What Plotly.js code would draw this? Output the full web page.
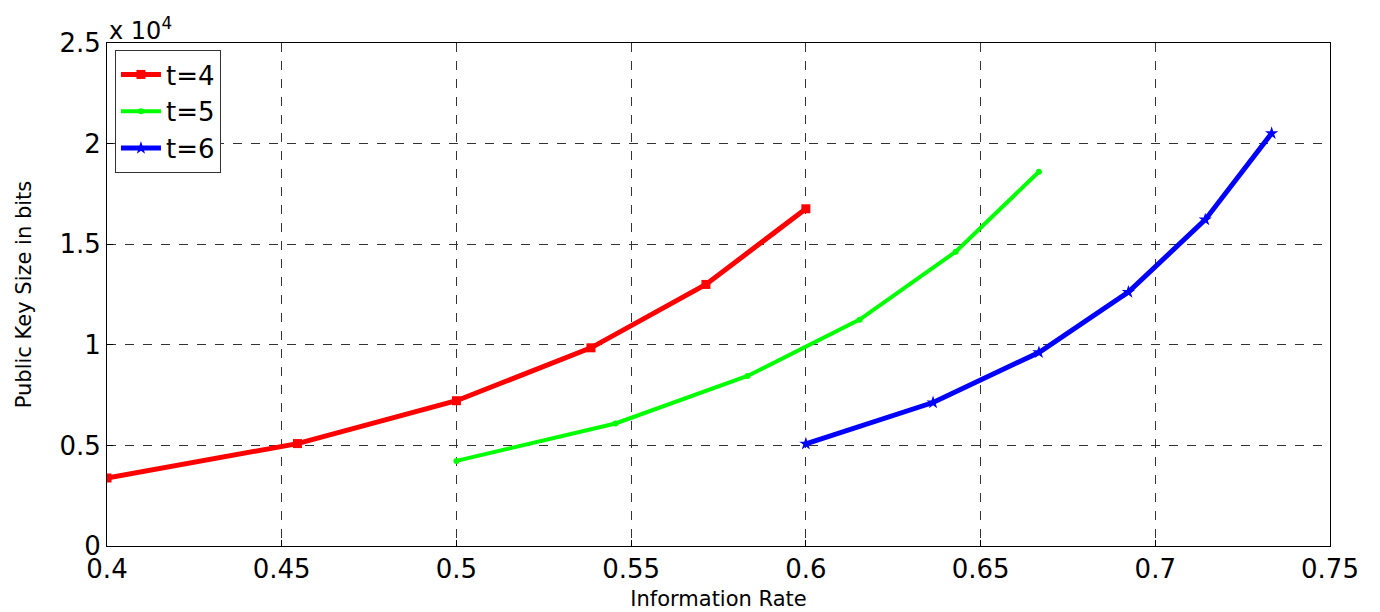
<!DOCTYPE html>
<html>
<head>
<meta charset="utf-8">
<script src="https://cdn.plot.ly/plotly-3.0.1.min.js"></script>
<style>html,body{margin:0;padding:0;background:#fff;}#chart{width:1380px;height:612px;}</style>
</head>
<body>
<div id="chart"></div>
<script>
// Information rate (x) and public key size in bits (y)
const seriesNames = ["t=4", "t=5", "t=6"];
const rateT4 = [0.4, 0.4545, 0.5, 0.5385, 0.5714, 0.6];
const sizeT4 = [3380, 5090, 7220, 9850, 13000, 16760];
const rateT5 = [0.5, 0.5455, 0.5833, 0.6154, 0.6429, 0.6667];
const sizeT5 = [4230, 6090, 8450, 11250, 14630, 18600];
const rateT6 = [0.6, 0.6364, 0.6667, 0.6923, 0.7143, 0.7333];
const sizeT6 = [5080, 7130, 9620, 12620, 16220, 20510];

const xTickVals = [0.4, 0.45, 0.5, 0.55, 0.6, 0.65, 0.7, 0.75];
const xTickText = ["0.4", "0.45", "0.5", "0.55", "0.6", "0.65", "0.7", "0.75"];
const yTickVals = [0, 5000, 10000, 15000, 20000, 25000];
const yTickText = ["0", "0.5", "1", "1.5", "2", "2.5"];

const FONT = "DejaVu Sans, Liberation Sans, Arial, sans-serif";

const traces = [
  {x: rateT4, y: sizeT4, name: seriesNames[0], type: "scatter", mode: "lines+markers",
   line: {color: "#ff0000", width: 5}, marker: {symbol: "square", size: 9, color: "#ff0000"}},
  {x: rateT5, y: sizeT5, name: seriesNames[1], type: "scatter", mode: "lines+markers",
   line: {color: "#00ff00", width: 4}, marker: {symbol: "circle", size: 6, color: "#00ff00"}},
  {x: rateT6, y: sizeT6, name: seriesNames[2], type: "scatter", mode: "lines+markers",
   line: {color: "#0000ff", width: 5}, marker: {symbol: "star", size: 10, color: "#0000ff"}}
];

const layout = {
  width: 1380, height: 612,
  margin: {l: 107, r: 50, t: 43, b: 66},
  paper_bgcolor: "#fff", plot_bgcolor: "#fff",
  font: {family: FONT, color: "#000"},
  showlegend: true,
  legend: {x: 0.0065, y: 0.986, xanchor: "left", yanchor: "top",
    bgcolor: "#fff", bordercolor: "#333", borderwidth: 1,
    font: {family: FONT, size: 26, color: "#000"}, itemwidth: 40, tracegroupgap: 0},
  xaxis: {
    range: [0.4, 0.75], tickvals: xTickVals, ticktext: xTickText,
    tickfont: {family: FONT, size: 26, color: "#000"},
    ticks: "inside", ticklen: 6, tickcolor: "#000",
    showline: true, linecolor: "#000", linewidth: 1, mirror: true,
    showgrid: true, gridcolor: "#333", gridwidth: 1, griddash: "dash",
    zeroline: false,
    title: {text: "Information Rate", font: {family: FONT, size: 21, color: "#000"}, standoff: 8}
  },
  yaxis: {
    range: [0, 25000], tickvals: yTickVals, ticktext: yTickText,
    tickfont: {family: FONT, size: 26, color: "#000"},
    ticks: "inside", ticklen: 6, tickcolor: "#000",
    showline: true, linecolor: "#000", linewidth: 1, mirror: true,
    showgrid: true, gridcolor: "#333", gridwidth: 1, griddash: "dash",
    zeroline: false,
    title: {text: "Public Key Size in bits", font: {family: FONT, size: 21, color: "#000"}, standoff: 22}
  },
  annotations: [{
    xref: "paper", yref: "paper", x: 0.0, y: 1.0, xanchor: "left", yanchor: "bottom",
    text: "x 10<sup>4</sup>", showarrow: false, yshift: -4,
    font: {family: FONT, size: 24, color: "#000"}
  }]
};

Plotly.newPlot("chart", traces, layout, {displayModeBar: false, staticPlot: true});
</script>
</body>
</html>
